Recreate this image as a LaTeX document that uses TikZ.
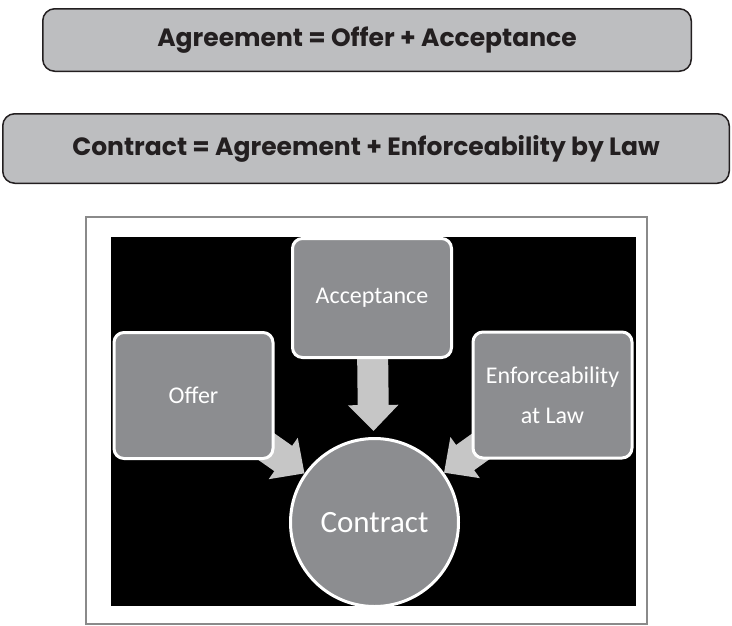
\documentclass[tikz,border=0pt]{standalone}
\usepackage{fontspec}
\setmainfont{Carlito}
\newfontfamily\titlefont{Poppins}
\usepackage{xcolor}
\usepackage{tikz}
\usetikzlibrary{arrows.meta}
\definecolor{titlegray}{HTML}{BDBEC0}
\definecolor{titleink}{HTML}{231F20}
\definecolor{boxgray}{HTML}{8C8D90}
\definecolor{arrowgray}{HTML}{C6C6C6}
\definecolor{framegray}{HTML}{8A8A8A}
\pgfdeclarelayer{back}
\pgfdeclarelayer{arrows}
\pgfsetlayers{back,arrows,main}
\tikzset{
	title/.style={draw=titleink, fill=titlegray, line width=1.5pt, rounded corners=12pt,
		text=titleink, font=\titlefont\bfseries\fontsize{25}{30}\selectfont},
	block/.style={rectangle, draw=white, fill=boxgray, line width=3pt, rounded corners=10pt,
		minimum width=159pt, minimum height=126pt, text=white, align=center,
		font=\fontsize{24}{40}\selectfont},
	blockarrow/.style={draw=arrowgray, line width=31pt, -{Triangle[width=49pt,length=26pt]}}
}

\begin{document}
\begin{tikzpicture}[x=1pt,y=-1pt]
\useasboundingbox (0,0) rectangle (732,625);
\node[title, minimum width=648.5pt, minimum height=62.5pt] (agree) at (367,40) {Agreement = Offer + Acceptance};
\node[title, minimum width=726.5pt, minimum height=69.5pt] (contr) at (366,148.5) {Contract = Agreement + Enforceability by Law};
\draw[color=framegray, line width=1.5] (86,217) rectangle (647,624);
\begin{pgfonlayer}{back}
\fill[black] (111,237) rectangle (636,606);
\end{pgfonlayer}
\node[block] (offer) at (193.5,395.5) {Offer};
\node[block, minimum height=119pt] (acc) at (372,298) {Acceptance};
\node[block] (enf) at (552.5,395) {Enforceability\\at Law};
\node[circle, draw=white, fill=boxgray, line width=3pt, minimum size=168pt, text=white,
	font=\fontsize{31}{36}\selectfont] (con) at (374.5,522.5) {Contract};
\begin{pgfonlayer}{arrows}
\draw[blockarrow, shorten >=6pt] (acc) -- (con);
\draw[blockarrow] (offer.center) -- (con);
\draw[blockarrow] (enf.center) -- (con);
\end{pgfonlayer}
\end{tikzpicture}
\end{document}
